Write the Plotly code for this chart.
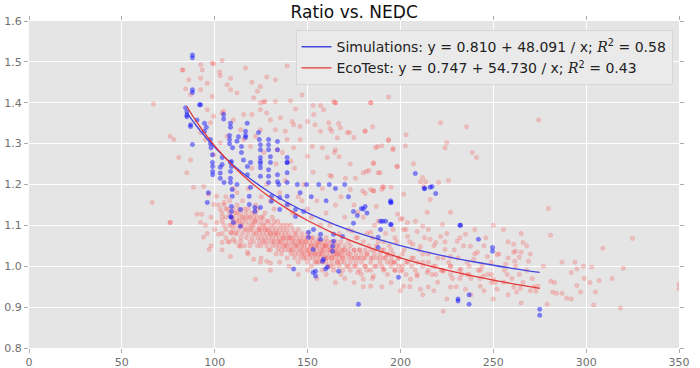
import plotly.graph_objects as go

# ---------------- data ----------------
eco_points = [
    # upper sparse region
    (83,1.48),(92.4,1.493),(99.4,1.495),(104,1.503),(102.6,1.475),(92.4,1.46),(86,1.456),(96,1.448),
    (103,1.466),(108.5,1.46),(106.7,1.444),(116.6,1.485),(84.3,1.434),(87,1.42),(92.4,1.432),(98.6,1.415),
    (108.5,1.432),(112,1.424),(120,1.45),(124.6,1.44),(128,1.463),(132.7,1.456),(139,1.49),(123,1.428),
    (127,1.403),(132.7,1.403),(124.6,1.4),(121,1.412),(140.8,1.405),(143.5,1.385),(153,1.393),(158.6,1.383),
    (164,1.403),(150,1.354),(154,1.346),(157,1.33),(162,1.337),(146,1.342),(141.7,1.354),(138,1.33),
    (139,1.31),(146,1.31),(152.5,1.293),(158,1.29),(142.5,1.29),(133.6,1.285),(126.4,1.278),(119.3,1.293),
    (115.6,1.31),(113.9,1.334),(110,1.358),(104.8,1.379),(99.4,1.367),(96,1.383),(120,1.371),(124.6,1.383),
    (130,1.358),(135.4,1.363),(132.7,1.334),(124.6,1.334),(122,1.318),(106.7,1.318),(103,1.302),(99.4,1.273),
    (76,1.318),(78,1.31),(80.6,1.266),(87,1.26),(141,1.257),(136.4,1.278),(150,1.269),(160.6,1.266),(165,1.285),
    (93.3,1.48),(98.6,1.497),(147,1.419),(165,1.4),(157,1.393),(126.4,1.402),(128,1.375),(115.6,1.371),
    (153.3,1.371),(161.4,1.351),(167.7,1.339),(171.4,1.327),(142.5,1.346),(104,1.375),(97.7,1.351),(92.4,1.327),
    (95,1.31),(85,1.229),(88.6,1.193),(166,1.314),(67,1.397),(82.5,1.48),
    (165,1.40),(184,1.40),(166.7,1.349),(163,1.33),(172.6,1.327),(175,1.315),(181,1.33),(185,1.341),
    (221.6,1.351),(235.6,1.341),(203,1.322),(193.5,1.307),(225,1.302),(224,1.29),(190,1.295),(186.6,1.29),
    (196,1.285),(202.7,1.295),(238.7,1.278),(241,1.266),(164.5,1.278),(167,1.268),(185.5,1.253),(207,1.251),
    (198,1.244),(180,1.229),(183,1.234),(189,1.229),(212,1.217),(213.6,1.207),(220.5,1.205),(225.9,1.21),
    (170.4,1.215),(175.8,1.215),(162,1.222),(190.4,1.195),(195,1.193),(173,1.188),(181,1.178),(185.5,1.185),
    (201.7,1.176),(216,1.163),(227,1.132),(187,1.146),(177,1.132),(201,1.117),(203.8,1.107),
    (193.6,1.414),(184,1.4),(274.4,1.358),(181,1.331),(187.7,1.293),(196,1.288),(193.6,1.31),(185.5,1.251),
    (181.7,1.232),(188,1.229),(198.4,1.244),(210.8,1.207),(212.5,1.195),(184,1.188),(190,1.188),
    # right tail
    (279.7,1.141),(280.8,1.076),(325,1.068),(309,1.044),(320,0.995),(350,0.956),(350,0.945),(318.5,0.898),
    (304,0.905),(279,0.907),(287,1.01),(294,1.01),(295,0.993),(298.5,1.0),(303,0.998),(292,0.985),(299,0.97),
    (302,0.96),(307,0.965),(314,0.97),(295,0.953),(305,0.937),(297,0.937),(289.5,0.922),(292,0.92),(287,0.934),
    (284,0.934),(282,0.937),(283,0.96),(281,0.963),
    (255.5,1.09),(261,1.054),(266,1.058),(261,1.034),(265,1.034),(264,1.022),(261.5,1.012),(269,1.012),
    (257.5,0.98),(264,0.98),(261,0.949),(262.5,0.937),(264.6,0.946),(271,0.97),(273,0.939),(277,1.0),
    (179.7,1.184),(185.5,1.184),(191,1.193),(174,1.086),(184,1.083),(200,1.115),(201.7,1.09),(209,1.085),
    (212,1.098),(216,1.066),(221.6,1.073),(219,1.058),(224,1.041),(227,1.024),(230.6,1.061),(235,1.078),
    (237.7,1.049),(239.4,1.017),(241.5,1.034),(244,1.0),(246.8,1.024),(252,1.029),(256.6,1.005),(262,1.037),
    (227,1.0),(232.4,0.993),(236,0.98),(223,0.988),(217.7,1.0),(214.4,0.985),(209,0.976),(205.4,0.968),
    (201.7,0.951),(210.8,0.944),(220,0.961),(227,0.949),(235,0.944),(223,0.89),(215,0.949),(244.7,0.976),
    (250,0.968),(255.6,0.961),(252,0.944),(243,0.951),(193,1.029),(196.5,1.01),(200,0.988),(191,0.993),
    (185.5,0.976),(180,0.968),(184,0.951),(177,0.985),(274,0.951),(198.5,1.127),(203.8,1.073),(214.4,1.132),
    (222.6,1.102),(210.8,1.049),(206.6,1.054),
    # left edge of the band
    (90.5,1.127),(93,1.127),(92.4,1.107),(94,1.071),(97,1.041),(101,1.107),(103,1.139),(99.4,1.151),
    (105,1.156),(101,1.171),(96.7,1.176),(94,1.195),(102,1.078),(104,1.059),(108.5,1.083),(110,1.066),
    (113.9,1.049),(117.6,1.034),(121,1.017),(124.6,1.01),(128,1.012),(130,1.008),(122,0.968),(108.5,1.024),
    (66.3,1.156),(76,1.107),(76,1.107),
    # scattered band
    (104,1.12),(106,1.09),(107,1.14),(109,1.10),(110,1.12),(111,1.08),(112,1.13),(113,1.11),(114,1.07),
    (115,1.10),(116,1.14),(117,1.09),(118,1.12),(119,1.06),(120,1.10),(120,1.13),(121,1.08),(122,1.11),
    (123,1.05),(123,1.14),(124,1.09),(125,1.12),(125,1.07),(126,1.10),(127,1.13),(127,1.06),(128,1.09),
    (129,1.11),(129,1.04),(130,1.08),(131,1.12),(131,1.06),(132,1.10),(133,1.03),(133,1.08),(134,1.11),
    (135,1.06),(135,1.09),(136,1.04),(137,1.10),(137,1.07),(138,1.05),(139,1.09),(139,1.02),(140,1.07),
    (141,1.10),(141,1.04),(142,1.06),(143,1.08),(143,1.03),(144,1.05),(145,1.09),(145,1.01),(146,1.06),
    (147,1.04),(147,1.08),(148,1.02),(149,1.06),(150,1.04),(150,1.08),(151,1.03),(152,1.05),(152,1.00),
    (153,1.07),(154,1.03),(155,1.05),(155,1.01),(156,1.06),(157,1.03),(158,1.04),(158,0.99),(159,1.06),
    (160,1.02),(160,1.05),(161,1.00),(162,1.04),(163,1.02),(163,1.06),(164,0.99),(165,1.03),(166,1.05),
    (166,1.01),(167,1.03),(168,0.98),(168,1.06),(169,1.02),(170,1.04),(171,1.00),(172,1.03),(172,1.06),
    (173,0.99),(174,1.02),(175,1.04),(176,1.00),(176,1.07),(177,1.02),(178,1.04),(179,0.98),(180,1.02),
    (180,1.06),(181,1.00),(182,1.03),(183,1.05),(184,0.99),(185,1.02),(186,1.04),(187,1.00),(188,1.06),
    (189,1.02),(190,1.00),(190,1.04),(192,1.02),(193,0.98),(194,1.05),(195,1.01),(196,1.03),(197,0.99),
    (198,1.06),(199,1.02),(201,1.00),(202,1.04),(204,1.01),(205,1.06),(207,1.02),(208,0.99),(210,1.04),
    (212,1.01),(213,1.07),(215,1.03),(217,0.98),(218,1.05),(220,1.02),(222,0.99),(224,1.06),(226,1.01),
    (228,0.97),(229,1.04),(231,1.02),(233,0.98),(234,1.05),(236,1.01),(238,0.97),(240,1.03),(242,0.99),
    (245,1.05),(247,0.98),(249,1.01),(251,0.96),(253,1.03),(256,0.99),(258,1.02),(260,0.97),(262,1.00),
    (266,0.96),(268,0.99),(270,1.03),(272,0.95),
    (112,1.18),(118,1.19),(125,1.17),(130,1.16),(135,1.18),(140,1.15),(145,1.17),(150,1.14),(155,1.16),
    (160,1.13),(165,1.15),(170,1.12),(128,1.20),(138,1.21),(148,1.20),(158,1.19),(168,1.17),(175,1.15),
    (180,1.12),(186,1.10),(192,1.08),(196,1.09),(115,1.16),(122,1.15),(132,1.14),(142,1.13),(152,1.12),
    (162,1.10),(172,1.09),(182,1.08),(188,1.11),(143,1.24),(153,1.23),(163,1.22),(173,1.25),(133,1.25),
    (120,1.24),(147,1.16),(157,1.10),(167,1.08),(177,1.07),(185,1.07),(191,1.06),(197,1.07),(203,1.09),
    (208,1.11),(215,1.09),(225,1.08),(232,1.07),(240,1.09),(246,1.07),(250,1.10),(258,1.06),(265,1.08),
    (268,1.05),
    (140,1.00),(145,0.98),(150,0.99),(155,0.97),(160,0.98),(165,0.96),(170,0.97),(175,0.96),(180,0.95),
    (185,0.97),(190,0.95),(195,0.96),(200,0.94),(205,0.95),(212,0.93),(218,0.94),(225,0.92),(230,0.95),
    (238,0.93),(245,0.94),(250,0.92),(258,0.93),(265,0.91),(270,0.94),(130,0.99),(135,1.01),(125,1.02),
    (118,1.03),(113,1.05),(107,1.06),(104,1.04),(98,1.05),(100,1.09),(96,1.08),(95,1.10),(98,1.12),
    (102,1.15),(106,1.17),(110,1.19),
]

# the dense core of the EcoTest cloud: (x, [y values read in that column])
eco_core = [
    (104,[1.11,1.13,1.08]),(105,[1.15,1.10]),(106,[1.12,1.07,1.14]),(108,[1.10,1.13,1.06,1.16]),
    (109,[1.12,1.08]),(110,[1.14,1.09,1.11]),(111,[1.13,1.06,1.10]),(112,[1.11,1.08,1.15]),
    (113,[1.09,1.12,1.14]),(114,[1.10,1.06,1.13]),(115,[1.12,1.08,1.11]),(116,[1.09,1.12,1.05]),
    (117,[1.11,1.07,1.13]),(118,[1.10,1.08,1.14]),(119,[1.12,1.09,1.05]),(120,[1.11,1.07,1.09]),
    (121,[1.10,1.12,1.06]),(122,[1.08,1.11,1.13]),(123,[1.09,1.07,1.12]),(124,[1.10,1.06,1.08]),
    (125,[1.11,1.09,1.05]),(126,[1.08,1.12,1.06]),(127,[1.10,1.07,1.09]),(128,[1.08,1.11,1.05]),
    (129,[1.09,1.06,1.07]),(130,[1.10,1.08,1.04]),(131,[1.07,1.09,1.05]),(132,[1.08,1.06,1.11]),
    (133,[1.09,1.05,1.07]),(134,[1.06,1.08,1.04]),(135,[1.07,1.10,1.05]),(136,[1.08,1.06,1.03]),
    (137,[1.05,1.09,1.07]),(138,[1.06,1.08,1.04]),(139,[1.07,1.05,1.10]),(140,[1.08,1.04,1.06]),
    (141,[1.05,1.07,1.03]),(142,[1.07,1.04,1.09]),(143,[1.06,1.02,1.05]),(144,[1.07,1.04,1.08]),
    (145,[1.05,1.03,1.06]),(146,[1.04,1.07,1.02]),(147,[1.06,1.03,1.05]),(148,[1.05,1.07,1.03]),
    (149,[1.04,1.02,1.06]),(150,[1.05,1.03,1.07,1.01]),(151,[1.04,1.06,1.02]),(152,[1.03,1.05,1.07]),
    (153,[1.04,1.02,1.06]),(154,[1.05,1.03,1.01]),(155,[1.04,1.06,1.02]),(156,[1.03,1.05,1.01,1.07]),
    (157,[1.04,1.02,1.06]),(158,[1.05,1.03,1.01]),(159,[1.04,1.02,1.05]),(160,[1.03,1.01,1.05,1.07]),
    (161,[1.04,1.02,1.06]),(162,[1.03,1.00,1.05]),(163,[1.04,1.02,1.01]),(164,[1.03,1.05,1.00]),
    (165,[1.02,1.04,1.06]),(166,[1.03,1.01,1.04]),(167,[1.02,1.05,1.00]),(168,[1.03,1.01,1.04]),
    (169,[1.02,1.04,0.99]),(170,[1.03,1.01,1.05]),(172,[1.02,1.04,1.00]),(173,[1.03,1.01,1.05]),
    (175,[1.02,1.04,1.00]),(176,[1.03,1.01]),(178,[1.02,1.04,0.99]),(179,[1.03,1.01]),
    (181,[1.02,1.04,1.00]),(182,[1.03,0.99]),(184,[1.01,1.04,1.02]),(186,[1.03,1.00]),
    (187,[1.02,1.05]),(189,[1.01,1.03]),(191,[1.02,0.99,1.04]),(193,[1.01,1.03]),
    (195,[1.00,1.02,1.04]),(197,[1.01,0.99]),(199,[1.02,1.00]),(201,[1.03,0.99]),
    (203,[1.01,0.98]),(206,[1.02,1.00]),(209,[1.01,0.98]),(212,[1.00,1.03]),(215,[0.99,1.01]),
    (219,[1.00,0.98]),(223,[0.99,1.02]),(227,[0.98,1.00]),(232,[0.99,0.97]),(237,[0.98,1.00]),
    (243,[0.97,0.99]),(249,[0.98,0.96]),
]

sim_points = [
    (88,1.517),(88,1.51),(88,1.432),(88,1.425),(91.8,1.395),(84.3,1.388),(85,1.37),(87,1.342),(88,1.298),
    (85,1.378),(85,1.366),(87,1.346),(92.4,1.395),(90.5,1.358),(94.5,1.35),(95.5,1.34),(94.5,1.33),
    (97.7,1.31),(97.7,1.30),(98,1.29),(104.8,1.371),(104.8,1.36),(108.5,1.35),(108.5,1.34),(108,1.32),
    (108,1.31),(108,1.30),(116.6,1.33),(116.6,1.32),(116.6,1.315),(112.8,1.317),(109.6,1.29),(114.4,1.293),
    (114.4,1.278),(123.6,1.327),(124,1.31),(124.6,1.297),(124.6,1.285),(129,1.31),(129,1.297),(129,1.285),
    (133.8,1.305),(133.8,1.285),(117.5,1.35),(112,1.306),(98.8,1.273),(98.8,1.254),(104,1.266),(104,1.249),
    (109,1.256),(109,1.244),(115.5,1.26),(119.3,1.254),(124.6,1.266),(124.6,1.251),(130,1.268),(130,1.254),
    (139,1.266),(139,1.254),
    (98.9,1.244),(98.9,1.232),(98.9,1.224),(103,1.242),(103,1.228),(103,1.215),(108.5,1.254),(108.5,1.232),
    (108.5,1.215),(108.5,1.205),(105,1.205),(117.6,1.244),(117.6,1.224),(124.6,1.257),(124.6,1.241),
    (124.6,1.22),(129,1.236),(129,1.22),(129,1.205),(133.8,1.224),(133.8,1.207),(139,1.254),(139,1.229),
    (139,1.205),(144.5,1.2),(149.5,1.2),(156,1.2),(161.7,1.2),(134.5,1.2),(112,1.2),(119.3,1.193),
    (96.6,1.18),(96,1.156),(109.4,1.188),(109.4,1.171),(118.6,1.171),(118.6,1.151),(121.6,1.144),
    (121.6,1.134),(124.6,1.144),(130.6,1.171),(130.6,1.159),(135,1.168),(135,1.139),(139,1.171),(139,1.151),
    (143.5,1.139),(143.5,1.122),(147.8,1.134),(109,1.146),(109,1.134),(109,1.119),(113.9,1.139),(150.5,1.083),
    (157,1.066),(157,1.078),(164,1.078),(164,1.061),(153,1.041),(158,1.012),(160.7,0.998),(154.3,0.988),
    (154.3,0.976),
    (108.5,1.122),(110,1.107),(113.8,1.098),(153.2,1.09),(150.5,1.071),(153,0.985),(159.7,0.993),
    (166.7,0.988),(168.8,1.073),(163.5,1.049),(163.5,1.037),(158.6,1.017),(142.5,0.993),
    (165,1.19),(170,1.2),(172,1.17),(146,1.18),(152,1.17),(160,1.16),
    (174.7,1.134),(174.7,1.105),(180,1.14),(182,1.13),(194.7,1.156),(194.7,1.16),(190.4,1.11),(189.3,1.09),
    (194.7,1.102),(188,1.071),(188,1.046),(199,0.973),(177.4,0.907),(231,0.92),(231,0.915),(237,0.93),
    (237,0.907),(242,1.066),(249.6,1.046),(249.6,1.037),(232.4,1.1),(216,1.193),(213,1.19),(219,1.178),
    (275,0.895),(275,0.88),
    (208,1.227),(212.9,1.19),(217,1.195),(195,1.156),(181,1.146),(179,1.141),(176.8,1.124),(192,1.11),
    (189.3,1.11),(195,1.102),(232,1.1),
]

sim_fit = (0.810, 48.091, 0.58)   # a, b, R^2  for y = a + b / x
eco_fit = (0.747, 54.730, 0.43)
fit_x = [85, 90, 95, 100, 110, 120, 130, 140, 150, 165, 180, 200, 220, 240, 260, 275]

title_text = "Ratio vs. NEDC"
x_ticks = [0, 50, 100, 150, 200, 250, 300, 350]
y_ticks = [0.8, 0.9, 1.0, 1.1, 1.2, 1.3, 1.4, 1.5, 1.6]
y_tick_labels = ["0.8", "0.9", "1.0", "1.1", "1.2", "1.3", "1.4", "1.5", "1.6"]

# ---------------- figure ----------------
eco_x = [p[0] for p in eco_points] + [x for x, ys in eco_core for _ in ys]
eco_y = [p[1] for p in eco_points] + [y for _, ys in eco_core for y in ys]
sim_x = [p[0] for p in sim_points]
sim_y = [p[1] for p in sim_points]

def fit_curve(coef):
    a, b, _ = coef
    return [a + b / x for x in fit_x]

def label(name, coef):
    a, b, r2 = coef
    return (f"{name}: y = {a:.3f} + {b:.3f} / x; "
            f"<span style='font-family:DejaVu Serif'><i>R</i></span><sup>2</sup> = {r2:.2f}")

fig = go.Figure()
fig.add_trace(go.Scatter(
    x=eco_x, y=eco_y, mode="markers", showlegend=False, hoverinfo="skip",
    marker=dict(size=4.5, color="rgba(255,30,30,0.2)",
                line=dict(width=0.5, color="rgba(255,60,60,0.22)"))))
fig.add_trace(go.Scatter(
    x=sim_x, y=sim_y, mode="markers", showlegend=False, hoverinfo="skip",
    marker=dict(size=4.5, color="rgba(0,0,255,0.45)",
                line=dict(width=0.5, color="rgba(40,40,255,0.4)"))))
fig.add_trace(go.Scatter(
    x=fit_x, y=fit_curve(sim_fit), mode="lines", line_shape="spline",
    name=label("Simulations", sim_fit), line=dict(color="rgb(70,70,225)", width=1.3)))
fig.add_trace(go.Scatter(
    x=fit_x, y=fit_curve(eco_fit), mode="lines", line_shape="spline",
    name=label("EcoTest", eco_fit), line=dict(color="rgb(225,55,55)", width=1.3)))

axis_common = dict(
    showgrid=True, gridcolor="white", gridwidth=1, zeroline=False, automargin=False,
    ticks="outside", ticklen=4, tickcolor="#aaaaaa", mirror="ticks", showline=False,
    tickfont=dict(family="DejaVu Sans", size=11, color="#707070"),
)
fig.update_xaxes(range=[0, 350], tickvals=x_ticks, **axis_common)
fig.update_yaxes(range=[0.8, 1.6], tickvals=y_ticks, ticktext=y_tick_labels, **axis_common)

fig.update_layout(
    width=700, height=368,
    margin=dict(l=29, r=21, t=21, b=20),
    paper_bgcolor="white", plot_bgcolor="#e5e5e5",
    font=dict(family="DejaVu Sans", color="#222222"),
    title=dict(text=title_text, x=0.506, xanchor="center", y=0.967, yanchor="middle",
               yref="container", font=dict(size=17, color="#111111")),
    legend=dict(x=0.99, y=0.972, xanchor="right", yanchor="top",
                bgcolor="#eaeaea", bordercolor="#d6d6d6", borderwidth=1,
                font=dict(size=14, color="#222222"), itemwidth=30,
                tracegroupgap=0),
)

fig.write_html("out.html", config={"displayModeBar": False},
               post_script="document.body.style.margin='0';")
